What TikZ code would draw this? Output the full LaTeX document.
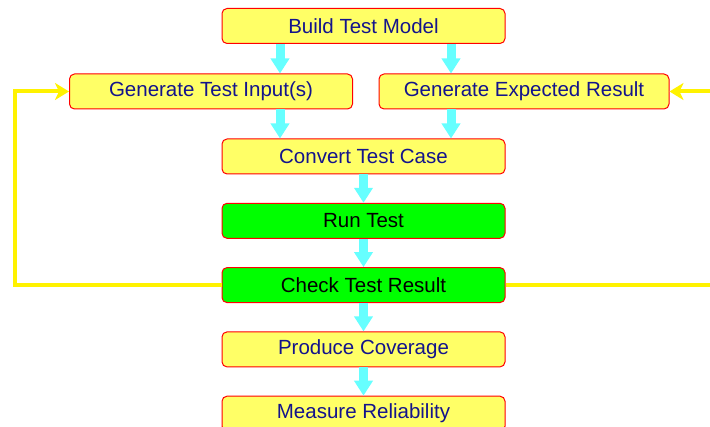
\documentclass[tikz,border=0pt]{standalone}
\usepackage{fontspec}
\setmainfont{Liberation Sans}
\usetikzlibrary{arrows.meta,positioning}

\definecolor{jaune}{HTML}{FFFF66}
\definecolor{cyanclair}{HTML}{66FFFF}
\definecolor{vertvif}{HTML}{00FF00}
\definecolor{marine}{HTML}{14148C}

\tikzset{
  etape/.style={draw=red, line width=1pt, fill=jaune, rounded corners=5pt,
    minimum width=283pt, minimum height=35pt, inner sep=0pt,
    text=marine, font=\fontsize{20.5}{24}\selectfont},
  etapeverte/.style={etape, fill=vertvif, text=black},
  fleche/.style={cyanclair, line width=9pt, -{Triangle[width=18pt,length=15pt]}},
  retour/.style={yellow, line width=4pt, -{Stealth[length=14pt,width=17pt,inset=4pt]}}
}

\begin{document}
\begin{tikzpicture}[x=1pt,y=-1pt,node distance=28.3pt]

\clip (0,0) rectangle (710,427);

% Etapes
\node[etape] (modele) at (363.5,26) {Build Test Model};
\node[etape] (entree) at (211,91.5) {Generate Test Input(s)};
\node[etape, minimum width=290pt] (attendu) at (524,91.5) {Generate Expected Result};
\node[etape] (convert) at (363.5,156.5) {Convert Test Case};
\node[etapeverte, below=of convert] (run) {Run Test};
\node[etapeverte, below=of run] (verif) {Check Test Result};
\node[etape, below=of verif] (couv) {Produce Coverage};
\node[etape, below=of couv] (fiab) {Measure Reliability};

% Fleches
\coordinate (xg) at (280,0);
\coordinate (xd) at (451,0);
\draw[fleche] (modele.south -| xg) -- (entree.north -| xg);
\draw[fleche] (modele.south -| xd) -- (attendu.north -| xd);
\draw[fleche] (entree.south -| xg) -- (convert.north -| xg);
\draw[fleche] (attendu.south -| xd) -- (convert.north -| xd);
\draw[fleche] (convert) -- (run);
\draw[fleche] (run) -- (verif);
\draw[fleche] (verif) -- (couv);
\draw[fleche] (couv) -- (fiab);

% Retours
\coordinate (g) at (15,0);
\coordinate (d) at (716,0);
\draw[retour] (verif.west) -- (verif.west -| g) |- (entree.west);
\draw[yellow, line width=4pt] (verif.east) -- (verif.east -| d);
\draw[retour] (attendu.east -| d) -- (attendu.east);

\end{tikzpicture}
\end{document}
